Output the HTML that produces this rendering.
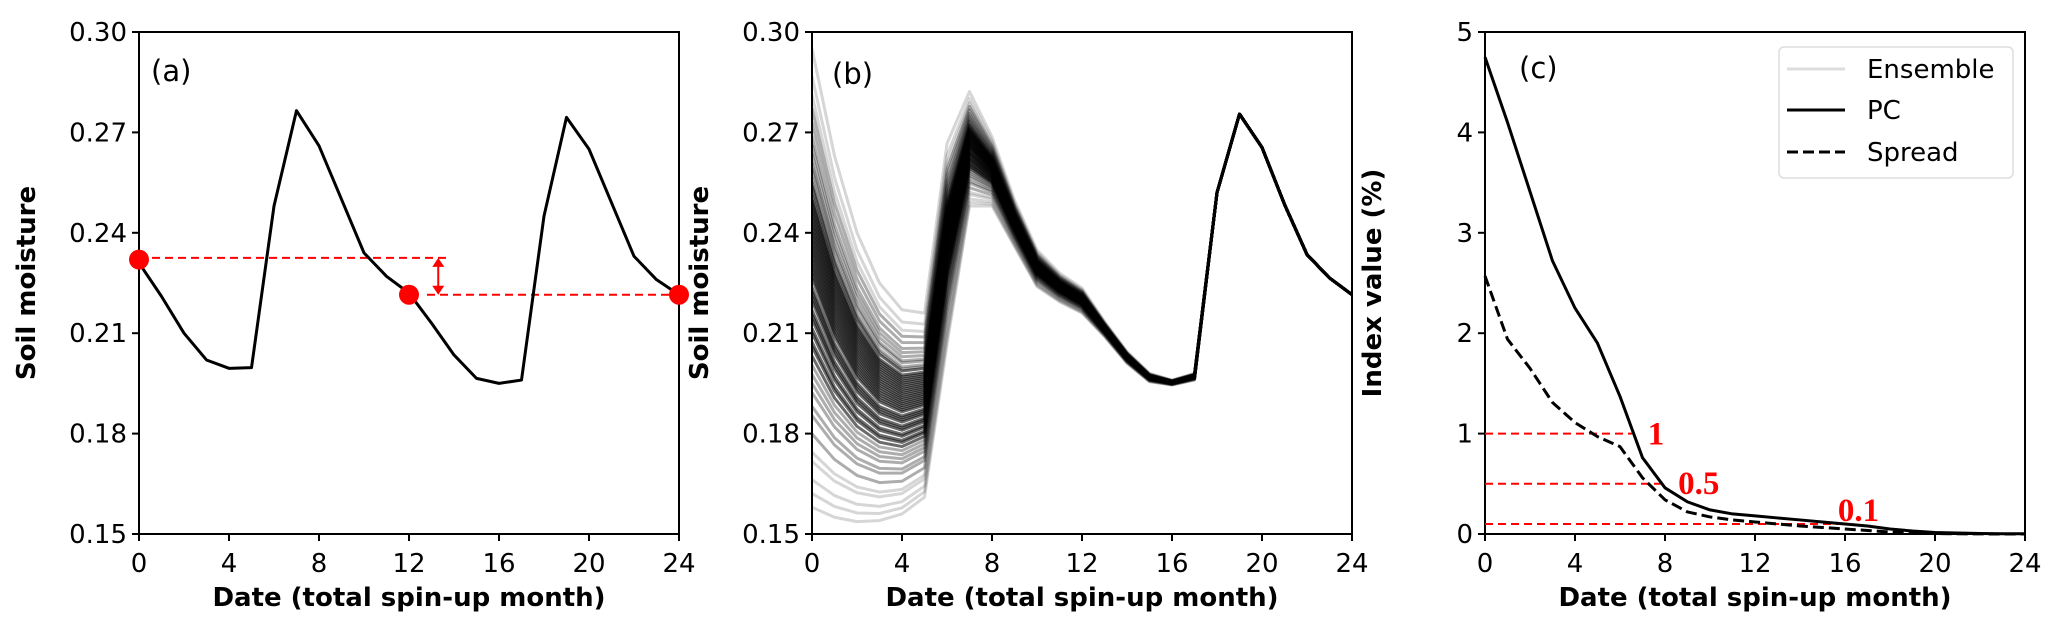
<!DOCTYPE html>
<html><head><meta charset="utf-8"><style>
html,body{margin:0;padding:0;background:#fff;}
svg{display:block;font-family:"DejaVu Sans","Liberation Sans",sans-serif;}
</style></head><body>
<svg id="fig" width="2067" height="640" viewBox="0 0 2067 640"></svg>
<script>
// ---------- data ----------
const months = [0,1,2,3,4,5,6,7,8,9,10,11,12,13,14,15,16,17,18,19,20,21,22,23,24];
const xTicks = [0,4,8,12,16,20,24];
const smTicks = [0.15,0.18,0.21,0.24,0.27,0.30];
const smTickLabels = ["0.15","0.18","0.21","0.24","0.27","0.30"];
const idxTicks = [0,1,2,3,4,5];
const idxTickLabels = ["0","1","2","3","4","5"];
// panel (a)
const pcSoil = [0.231,0.221,0.210,0.202,0.1995,0.1997,0.248,0.2765,0.266,0.250,0.234,0.227,0.222,0.213,0.2035,0.1965,0.195,0.196,0.245,0.2745,0.265,0.249,0.233,0.226,0.2215];
const redPoints = [[0,0.232],[12,0.2215],[24,0.2215]];
const redLevels = [[0,13.8,0.2325],[12.8,24,0.2215]];
const arrowX = 13.3;
// panel (b) envelopes of ensemble
const ensUpper = [0.295,0.263,0.240,0.225,0.217,0.216,0.2667,0.2822,0.2687,0.2498,0.2349,0.228,0.2235,0.2135,0.2045,0.198,0.196,0.198,0.252,0.2755,0.2655,0.2485,0.2335,0.2265,0.2215];
const ensLower = [0.158,0.155,0.1537,0.154,0.156,0.161,0.2066,0.248,0.248,0.2359,0.2239,0.2194,0.216,0.209,0.201,0.1955,0.1945,0.196,0.252,0.2755,0.2655,0.2485,0.2335,0.2265,0.2215];
const memberFrac = [0.0,0.03,0.06,0.1,0.12,0.16,0.2,0.22,0.25,0.27,0.29,0.31,0.33,0.35,0.36,0.38,0.39,0.41,0.42,0.43,0.45,0.46,0.47,0.48,0.5,0.51,0.52,0.53,0.54,0.55,0.56,0.57,0.58,0.59,0.6,0.61,0.62,0.63,0.64,0.65,0.66,0.67,0.68,0.7,0.71,0.72,0.74,0.75,0.77,0.79,0.81,0.84,0.87,0.9,0.94,1.0];
// panel (c)
const pcIndex = [4.75,4.1,3.41,2.72,2.25,1.9,1.37,0.76,0.46,0.32,0.24,0.2,0.18,0.16,0.14,0.12,0.1,0.08,0.05,0.03,0.015,0.01,0.005,0.003,0.002];
const spreadIndex = [2.57,1.94,1.65,1.31,1.11,0.97,0.87,0.56,0.34,0.22,0.17,0.14,0.12,0.1,0.08,0.065,0.05,0.035,0.02,0.01,0.005,0.002,0.001,0.0,0.0];
const thresholds = [1,0.5,0.1];
const thresholdLabels = ["1","0.5","0.1"];
const thresholdEnds = [6.54,7.9,15.85];
const thresholdLabelPos = [[7.6,1.0],[9.5,0.51],[16.6,0.24]];

// ---------- helpers ----------
const svg = document.getElementById('fig');
const NS = 'http://www.w3.org/2000/svg';
function el(tag, attrs, parent){ const e=document.createElementNS(NS,tag); for(const k in attrs) e.setAttribute(k,attrs[k]); (parent||svg).appendChild(e); return e; }
const TOP=32, BOT=534, W=540;
function mkX(left){ return m => left + m/24*W; }
function mkY(lo,hi){ return v => BOT - (v-lo)/(hi-lo)*(BOT-TOP); }
function pathD(xs,ys,fx,fy){ return xs.map((x,i)=>(i?'L':'M')+fx(x).toFixed(2)+','+fy(ys[i]).toFixed(2)).join(''); }

function axes(left, fy, yt, ytl, ytitle, name){
  const g = el('g',{});
  
  
  const fx = mkX(left);
  el('rect',{x:left,y:TOP,width:W,height:BOT-TOP,fill:'none',stroke:'#000','stroke-width':2},g);
  xTicks.forEach(t=>{
    el('line',{x1:fx(t),x2:fx(t),y1:BOT,y2:BOT+7,stroke:'#000','stroke-width':2},g);
    const tx=el('text',{x:fx(t),y:BOT+38,'text-anchor':'middle','font-size':26},g);
    tx.textContent=t;
    
    
  });
  yt.forEach((t,i)=>{
    el('line',{x1:left-7,x2:left,y1:fy(t),y2:fy(t),stroke:'#000','stroke-width':2},g);
    const tx=el('text',{x:left-12,y:fy(t)+9,'text-anchor':'end','font-size':26},g);
    tx.textContent=ytl[i];
    
    
  });
  const xt=el('text',{x:left+W/2,y:606,'text-anchor':'middle','font-size':26,'font-weight':'bold'},g);
  xt.textContent='Date (total spin-up month)';
  
  
  const cy=(TOP+BOT)/2, cx=left-104;
  const yl=el('text',{x:cx,y:cy,'text-anchor':'middle','font-size':26,'font-weight':'bold',transform:`rotate(-90 ${cx} ${cy})`},g);
  yl.textContent=ytitle;
  
  
  return fx;
}

// ---------- panel a ----------
const yS = mkY(0.15,0.30);
const xA = axes(139, yS, smTicks, smTickLabels, 'Soil moisture', 'panel-a');
const ga = el('g',{});  
redLevels.forEach(r=>{
  const l=el('line',{x1:xA(r[0]),x2:xA(r[1]),y1:yS(r[2]),y2:yS(r[2]),stroke:'#f00','stroke-width':2,'stroke-dasharray':'8,5'},ga);
  
  
});
const pa=el('path',{d:pathD(months,pcSoil,xA,yS),fill:'none',stroke:'#000','stroke-width':3,'stroke-linejoin':'round'},ga);


{
  const ax=xA(arrowX), y1=yS(redLevels[0][2]), y2=yS(redLevels[1][2]);
  const ar=el('g',{},ga);
  
  
  el('line',{x1:ax,x2:ax,y1:y1+6,y2:y2-6,stroke:'#f00','stroke-width':2},ar);
  el('polygon',{points:`${ax},${y1} ${ax-6},${y1+9} ${ax+6},${y1+9}`,fill:'#f00'},ar);
  el('polygon',{points:`${ax},${y2} ${ax-6},${y2-9} ${ax+6},${y2-9}`,fill:'#f00'},ar);
}
redPoints.forEach(p=>{
  const c=el('circle',{cx:xA(p[0]),cy:yS(p[1]),r:10,fill:'#f00'},ga);
  
  
});
const la=el('text',{x:151,y:81,'font-size':29},ga); la.textContent='(a)';
 

// ---------- panel b ----------
const xB = axes(812, yS, smTicks, smTickLabels, 'Soil moisture', 'panel-b');
const cp=el('clipPath',{id:'clipb'}); el('rect',{x:812,y:TOP,width:W,height:BOT-TOP},cp);
const gb = el('g',{'clip-path':'url(#clipb)'});  
memberFrac.forEach(f=>{
  const vals = months.map((m,i)=>ensLower[i]+f*(ensUpper[i]-ensLower[i]));
  const edge = (f<0.15||f>0.88);
  const mid = (f>=0.33&&f<=0.7);
  const p=el('path',{d:pathD(months,vals,xB,yS),fill:'none',stroke:'#000','stroke-opacity':edge?0.16:(mid?0.58:0.32),'stroke-width':3,'stroke-linejoin':'round'},gb);
  
  
});
const lb=el('text',{x:832,y:84,'font-size':29}); lb.textContent='(b)';
 

// ---------- panel c ----------
const yI = mkY(0,5);
const xC = axes(1485, yI, idxTicks, idxTickLabels, 'Index value (%)', 'panel-c');
const gc = el('g',{});  
thresholds.forEach((t,i)=>{
  const l=el('line',{x1:xC(0),x2:xC(thresholdEnds[i]),y1:yI(t),y2:yI(t),stroke:'#f00','stroke-width':2,'stroke-dasharray':'8,5'},gc);
  
  
  const tx=el('text',{x:xC(thresholdLabelPos[i][0]),y:yI(thresholdLabelPos[i][1])+11,'text-anchor':'middle','font-size':33,'font-weight':'bold',fill:'#f00','font-family':'"Liberation Serif",serif'},gc);
  tx.textContent=thresholdLabels[i];
  
  
});
const pc=el('path',{d:pathD(months,pcIndex,xC,yI),fill:'none',stroke:'#000','stroke-width':3,'stroke-linejoin':'round'},gc);
 
const sp=el('path',{d:pathD(months,spreadIndex,xC,yI),fill:'none',stroke:'#000','stroke-width':3,'stroke-dasharray':'11,5','stroke-linejoin':'round'},gc);
 
const lc=el('text',{x:1519,y:78,'font-size':29}); lc.textContent='(c)';
 

// legend
const lg=el('g',{});  
el('rect',{x:1779,y:47,width:234,height:131,rx:5,fill:'#fff','fill-opacity':0.8,stroke:'#ddd','stroke-width':1.5},lg);
const legItems=[['Ensemble',69,'#ddd',''],['PC',110,'#000',''],['Spread',152,'#000','11,5']];
legItems.forEach(it=>{
  const e=el('g',{},lg);
  
  
  const a={x1:1787,x2:1845,y1:it[1],y2:it[1],stroke:it[2],'stroke-width':3};
  if(it[3]) a['stroke-dasharray']=it[3];
  el('line',a,e);
  const t=el('text',{x:1867,y:it[1]+9,'font-size':26},e); t.textContent=it[0];
});
</script>
</body></html>
